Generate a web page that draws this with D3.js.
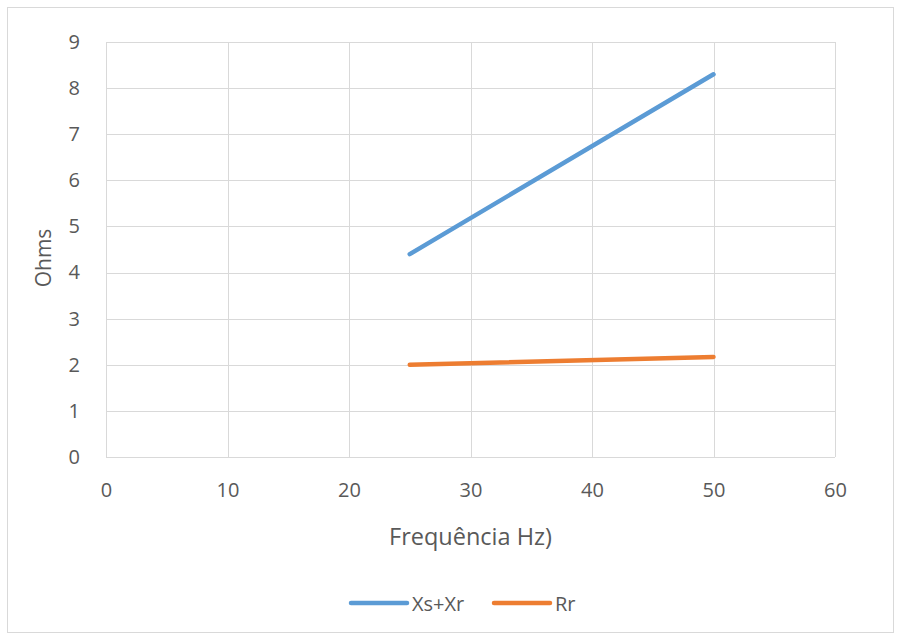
<!DOCTYPE html>
<html>
<head>
<meta charset="utf-8">
<script src="https://cdn.jsdelivr.net/npm/d3@7"></script>
<style>
body { margin: 0; background: #fff; }
text { font-family: "Open Sans", "Noto Sans", sans-serif; fill: #595959; }
</style>
</head>
<body>
<div id="chart"></div>
<script>
// data
var freq = [25, 50];
var xsxr = [4.4, 8.3];
var rr = [2.0, 2.17];
var seriesNames = ["Xs+Xr", "Rr"];
var seriesColors = ["#5B9BD5", "#ED7D31"];
var xTicks = [0, 10, 20, 30, 40, 50, 60];
var yTicks = [0, 1, 2, 3, 4, 5, 6, 7, 8, 9];

var width = 901, height = 640;
var plotLeft = 106, plotRight = 835, plotTop = 42, plotBottom = 457;

var svg = d3.select("#chart").append("svg")
	.attr("width", width)
	.attr("height", height);

// chart border
svg.append("rect")
	.attr("x", 7.5).attr("y", 7.5)
	.attr("width", 886).attr("height", 625)
	.attr("fill", "#fff")
	.attr("stroke", "#d9d9d9");

var xscale = d3.scaleLinear().domain([0, 60]).range([plotLeft, plotRight]);
var yscale = d3.scaleLinear().domain([0, 9]).range([plotBottom, plotTop]);

// gridlines
svg.append("g").selectAll("line")
	.data(xTicks).enter().append("line")
	.attr("x1", function(d) { return Math.round(xscale(d)) + 0.5; })
	.attr("x2", function(d) { return Math.round(xscale(d)) + 0.5; })
	.attr("y1", plotTop).attr("y2", plotBottom)
	.attr("stroke", "#d9d9d9");
svg.append("g").selectAll("line")
	.data(yTicks).enter().append("line")
	.attr("y1", function(d) { return Math.round(yscale(d)) + 0.5; })
	.attr("y2", function(d) { return Math.round(yscale(d)) + 0.5; })
	.attr("x1", plotLeft).attr("x2", plotRight)
	.attr("stroke", "#d9d9d9");

// axes (labels only, no domain/ticks)
var xaxis = d3.axisBottom(xscale).tickValues(xTicks).tickSize(0).tickPadding(26);
var yaxis = d3.axisLeft(yscale).tickValues(yTicks).tickSize(0).tickPadding(26);
var gx = svg.append("g").attr("transform", "translate(0," + plotBottom + ")").call(xaxis);
var gy = svg.append("g").attr("transform", "translate(" + plotLeft + ",0)").call(yaxis);
[gx, gy].forEach(function(g) {
	g.select(".domain").remove();
	g.selectAll("text").style("font-size", "20px").attr("fill", "#595959")
		.style("font-family", "'Open Sans', 'Noto Sans', sans-serif");
});

// series lines
var line = d3.line()
	.x(function(d) { return xscale(d[0]); })
	.y(function(d) { return yscale(d[1]); });
[xsxr, rr].forEach(function(vals, i) {
	svg.append("path")
		.datum(freq.map(function(f, k) { return [f, vals[k]]; }))
		.attr("d", line)
		.attr("fill", "none")
		.attr("stroke", seriesColors[i])
		.attr("stroke-width", 4.5)
		.attr("stroke-linecap", "round");
});

// axis titles
svg.append("text")
	.attr("transform", "translate(51,258) rotate(-90)")
	.attr("text-anchor", "middle")
	.style("font-size", "21px")
	.text("Ohms");
svg.append("text")
	.attr("x", (plotLeft + plotRight) / 2).attr("y", 545)
	.attr("text-anchor", "middle")
	.style("font-size", "23.5px")
	.text("Frequência Hz)");

// legend
var legendX = [351, 494];
seriesNames.forEach(function(name, i) {
	svg.append("line")
		.attr("x1", legendX[i]).attr("x2", legendX[i] + 56)
		.attr("y1", 603).attr("y2", 603)
		.attr("stroke", seriesColors[i])
		.attr("stroke-width", 4.5)
		.attr("stroke-linecap", "round");
	svg.append("text")
		.attr("x", legendX[i] + 61).attr("y", 611)
		.style("font-size", "20px")
		.text(name);
});
</script>
</body>
</html>
